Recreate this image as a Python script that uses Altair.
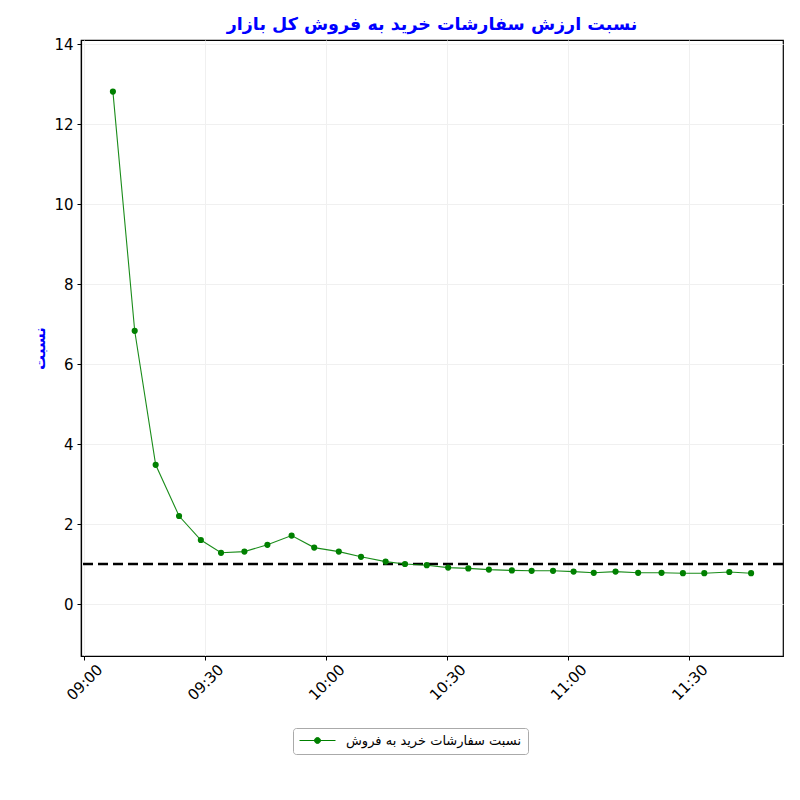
import altair as alt
import pandas as pd

# sample times (HH:MM:SS) and buy/sell order value ratio
times = ["09:07:06", "09:12:30", "09:17:42", "09:23:30", "09:28:54", "09:33:54",
         "09:39:42", "09:45:24", "09:51:24", "09:57:00", "10:03:06", "10:08:36",
         "10:14:42", "10:19:30", "10:24:54", "10:30:12", "10:35:12", "10:40:18",
         "10:46:00", "10:50:54", "10:56:12", "11:01:18", "11:06:18", "11:11:42",
         "11:17:18", "11:23:06", "11:28:24", "11:33:42", "11:39:54", "11:45:18"]
ratios = [12.81, 6.83, 3.48, 2.20, 1.60, 1.28, 1.31, 1.48, 1.71, 1.41,
          1.31, 1.18, 1.06, 1.00, 0.97, 0.91, 0.89, 0.86, 0.84, 0.83,
          0.83, 0.81, 0.78, 0.81, 0.78, 0.78, 0.77, 0.77, 0.80, 0.77]
x_tick_minutes = [0, 30, 60, 90, 120, 150]
y_ticks = [0, 2, 4, 6, 8, 10, 12, 14]
reference_level = [1.0]

series_name = "نسبت سفارشات خرید به فروش"
title_text = "نسبت ارزش سفارشات خرید به فروش کل بازار"
y_title = "نسبت"

def to_minutes(t):
    h, m, s = (int(p) for p in t.split(":"))
    return (h - 9) * 60 + m + s / 60.0

df = pd.DataFrame({"t": [to_minutes(t) for t in times], "ratio": ratios,
                   "series": [series_name] * len(times)})
tmin, tmax = df["t"].min(), df["t"].max()
pad = (tmax - tmin) * 0.05
x_domain = [tmin - pad, tmax + pad]
y_domain = [-1.3, 14.1]

label_expr = ("(floor(datum.value/60)+9 < 10 ? '0' : '') + (floor(datum.value/60)+9) + ':' + "
              "(datum.value%60 < 10 ? '0' : '') + (datum.value%60)")

x_enc = alt.X("t:Q", scale=alt.Scale(domain=x_domain, nice=False, zero=False),
              axis=alt.Axis(values=x_tick_minutes, labelExpr=label_expr, title=None,
                            labelAngle=315, labelAlign="center", labelBaseline="middle",
                            labelPadding=22, labelOverlap=False, labelFlush=False))
y_enc = alt.Y("ratio:Q", scale=alt.Scale(domain=y_domain, nice=False, zero=False),
              axis=alt.Axis(values=y_ticks, title=y_title, titleColor="blue",
                            titleFontSize=15, titleFontWeight="bold", titlePadding=6,
                            labelPadding=4))

# legend glyph: a line with a dot in the middle (unit box coordinates)
legend_symbol = ("M-1,0L5,0M1.5,0A0.5,0.5,0,1,1,2.5,0A0.5,0.5,0,1,1,1.5,0Z")

line = alt.Chart(df).mark_line(strokeWidth=1.1, opacity=0.9).encode(
    x=x_enc, y=y_enc,
    color=alt.Color("series:N", scale=alt.Scale(range=["green"]),
                    legend=alt.Legend(title=None, orient="none", legendX=212, legendY=688,
                                      symbolType=legend_symbol, symbolSize=144,
                                      symbolStrokeWidth=1, symbolFillColor="green",
                                      symbolStrokeColor="#77bb77", symbolOpacity=1,
                                      labelFontSize=13, labelFont="DejaVu Sans",
                                      labelLimit=400,
                                      labelColor="black", padding=6, strokeColor="#aaaaaa",
                                      cornerRadius=3, fillColor="white", labelOffset=34)),
)
points = alt.Chart(df).mark_point(filled=True, size=38, color="green", opacity=1).encode(
    x="t:Q", y="ratio:Q")

href = alt.Chart(pd.DataFrame({"level": reference_level})).mark_rule(
    color="black", strokeWidth=2.6, strokeDash=[10, 5]).encode(y="level:Q")

chart = alt.layer(href, line, points).properties(
    width=702, height=616,
    title=alt.TitleParams(title_text, color="blue", fontSize=17.5, fontWeight="bold",
                          font="DejaVu Sans", anchor="middle", offset=4),
    autosize=alt.AutoSizeParams(type="none"),
    padding={"left": 73, "top": 32, "right": 9, "bottom": 120},
).configure_view(stroke="black", strokeWidth=1.2).configure_axis(
    labelFont="DejaVu Sans", labelFontSize=15, labelColor="black",
    titleFont="DejaVu Sans", tickColor="black", domainColor="black", tickSize=4,
    gridColor="#f0f0f0", gridWidth=1, domainWidth=1.2,
)

chart.save("out.html", embed_options={"renderer": "svg", "actions": False})
